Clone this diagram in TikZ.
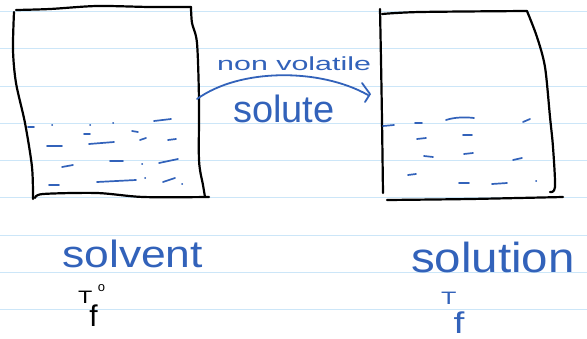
\documentclass[tikz,border=0pt]{standalone}
\usepackage{fontspec}
\setmainfont{Liberation Sans}
\definecolor{ink}{RGB}{50,98,186}
\definecolor{ruleblue}{RGB}{204,230,248}
\tikzset{
  ruled/.style={ruleblue, line width=1pt},
  boxline/.style={black, line width=2.2pt, line cap=round, line join=round},
  dashmark/.style={ink, line width=1.7pt, line cap=round},
  handtext/.style={inner sep=0pt, anchor=base west, text=ink},
}
\newcommand{\hwfont}[1]{\fontsize{#1}{#1}\selectfont}
\begin{document}
\begin{tikzpicture}[x=1pt,y=-1pt]
\useasboundingbox[fill=white] (0,0) rectangle (587,338);
% ruled paper
\foreach \yy in {11,48.5,86,123,160,197.5,235,272,309}
  \draw[ruled] (0,\yy) -- (587,\yy);
% left container
\draw[boxline] plot[smooth] coordinates {(16,10) (50,9) (97,6) (150,7) (191,7)};
\draw[boxline] plot[smooth] coordinates {(191,7) (192,23) (197,43) (199,100) (199,160) (203,185) (205,197)};
\draw[boxline] plot[smooth] coordinates {(35,198) (43,194) (97,193) (143,197) (209,197)};
\draw[boxline] plot[smooth] coordinates {(14,12) (13,50) (16,83) (25,123) (32,167) (33,199)};
% right container
\draw[boxline] plot[smooth] coordinates {(380,9) (381,60) (382,120) (383,193)};
\draw[boxline] plot[smooth] coordinates {(382,14) (420,12) (527,11)};
\draw[boxline] plot[smooth] coordinates {(527,11) (537,37) (545,67) (550,117) (553,147) (555,187) (550,192)};
\draw[boxline] plot[smooth] coordinates {(387,200) (470,199) (563,197)};
% liquid marks left
\foreach \a/\b in {{28,127}/{34,127},{52,125}/{52.3,125},{90,125}/{90.3,125},{113,123}/{113.3,123},
  {154,121}/{171,119},{84,134}/{90,134},{132,131}/{138,132},{140,140}/{146,138},{168,140}/{176,139},
  {47,146}/{62,146},{89,144}/{114,142},{62,167}/{73,165},{110,161}/{123,161},{142,164}/{142.3,164},
  {159,163}/{178,159},{49,185}/{59,185},{97,182}/{136,180},{145,178}/{145.3,178},{163,182}/{175,178},
  {182,184}/{182.3,184}}
  \draw[dashmark] (\a) -- (\b);
% liquid marks right
\foreach \a/\b in {{383,126}/{394,125},{415,123}/{422,123},{523,122}/{530,119},
  {417,139}/{426,138},{463,135}/{472,135},{424,156}/{433,157},{464,154}/{473,153},
  {513,160}/{522,158},{408,175}/{416,174},{459,183}/{469,183},{492,184}/{507,183},{536,181}/{536.3,181}}
  \draw[dashmark] (\a) -- (\b);
\draw[dashmark] (446,120) .. controls (455,117) and (466,117) .. (474,118);
% arrow
\coordinate (arrS) at (197,99);
\coordinate (arrE) at (368,95);
\draw[ink, line width=1.8pt, line cap=round] (arrS) .. controls (240,68) and (320,68) .. (arrE);
\draw[ink, line width=1.8pt, line cap=round, line join=round] (362,83) -- (370,94) -- (365,102);
% texts
\node[handtext] (nv) at (217,70) {\hwfont{19}\scalebox{1.6}[1]{non volatile}};
\node[handtext] (sol) at (233,122) {\hwfont{38}solute};
\node[handtext] (solv) at (62,267) {\hwfont{38}\scalebox{1.17}[1]{solvent}};
\node[handtext] (soln) at (411,272) {\hwfont{42}\scalebox{1.13}[1]{solution}};
% T_f labels
\node[handtext, text=black] (tfo) at (78,303) {\hwfont{18}\scalebox{1.3}[1]{T}\kern-3pt\raisebox{-23pt}{\hwfont{30}f}\raisebox{12pt}{\hwfont{13}o}};
\node[handtext] (tf) at (441,304) {\hwfont{18}\scalebox{1.4}[1]{T}\kern-3pt\raisebox{-29pt}{\hwfont{30}\scalebox{1.3}[1]{f}}};
\end{tikzpicture}
\end{document}
